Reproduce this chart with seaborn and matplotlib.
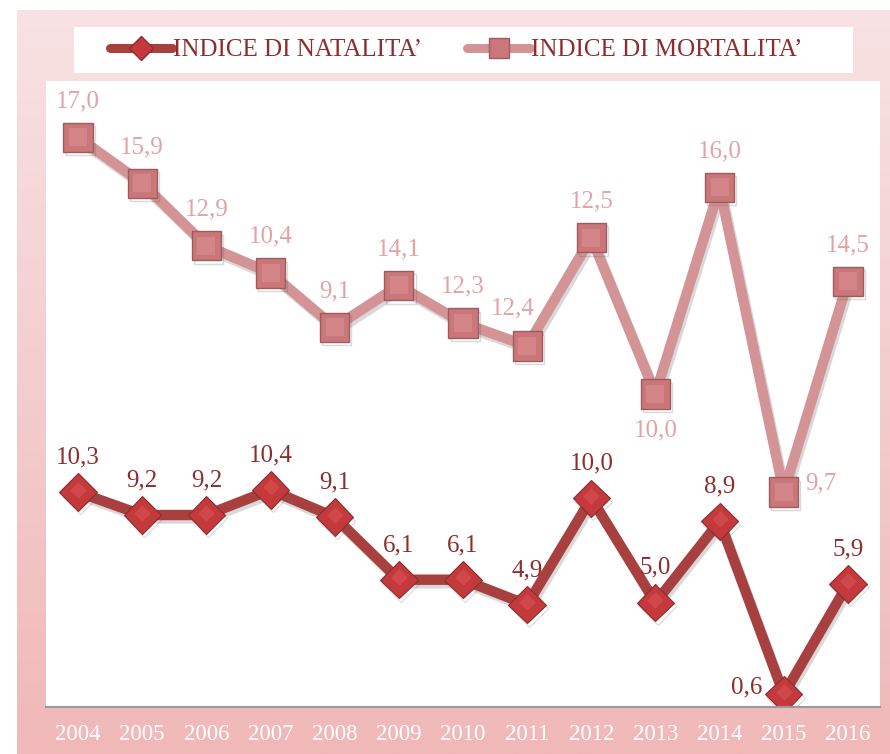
import numpy as np
import pandas as pd
import matplotlib.pyplot as plt
import matplotlib.patheffects as pe
from matplotlib.lines import Line2D
from matplotlib.patches import Rectangle
import seaborn as sns

sns.set_theme(style="white")
plt.rcParams['font.family'] = ['Liberation Serif', 'DejaVu Serif']

# data
years = [2004, 2005, 2006, 2007, 2008, 2009, 2010, 2011, 2012, 2013, 2014, 2015, 2016]
natalita = [10.3, 9.2, 9.2, 10.4, 9.1, 6.1, 6.1, 4.9, 10.0, 5.0, 8.9, 0.6, 5.9]
mortalita = [17.0, 15.9, 12.9, 10.4, 9.1, 14.1, 12.3, 12.4, 12.5, 10.0, 16.0, 9.7, 14.5]
series_names = ["INDICE DI NATALITA’", "INDICE DI MORTALITA’"]

df = pd.DataFrame({'anno': years, 'nat': natalita, 'mort': mortalita})
# stacked line chart: mortality drawn on top of natality
df['mort_stack'] = df['nat'] + df['mort']

nat_line = '#A8403F'
nat_face = '#C43A3C'
nat_text = '#8E2D2E'
mort_line = '#D49395'
mort_face = '#CB7679'
mort_text = '#E3A3A4'

fig = plt.figure(figsize=(8.9, 7.54), dpi=100)

# pink gradient background panel
bg = fig.add_axes([17 / 890, 0, 873 / 890, 744 / 754], zorder=-2)
grad = np.linspace(0, 1, 256).reshape(-1, 1)
top = np.array([248, 226, 227]) / 255
bot = np.array([240, 184, 185]) / 255
img = top + (bot - top) * grad[:, :, None] * np.ones((1, 1, 3))
bg.imshow(img, aspect='auto', extent=[0, 1, 0, 1])
bg.axis('off')

# white legend box
fig.patches.append(Rectangle((74 / 890, 1 - 73 / 754), (853 - 74) / 890, 46 / 754,
                             transform=fig.transFigure, facecolor='white',
                             edgecolor='none', zorder=-1))

ax = fig.add_axes([46 / 890, 1 - 707 / 754, 834 / 890, 626 / 754])
ax.set_facecolor('white')

shadow = [pe.SimpleLineShadow(offset=(1.5, -2.5), alpha=0.22, shadow_color='#555555'), pe.Normal()]

sns.lineplot(data=df, x='anno', y='mort_stack', ax=ax, color=mort_line, linewidth=7.5,
             marker='s', markersize=21, markerfacecolor=mort_face,
             markeredgecolor='#9A5C5E', markeredgewidth=1.0, legend=False)
sns.lineplot(data=df, x='anno', y='nat', ax=ax, color=nat_line, linewidth=7.5,
             marker='D', markersize=19, markerfacecolor=nat_face,
             markeredgecolor='#8C2B2D', markeredgewidth=0.8, legend=False)
for ln in ax.get_lines():
    ln.set_path_effects(shadow)

# soft inner highlight (bevel look)
ax.scatter(df['anno'], df['mort_stack'], marker='s', s=170, color='#DB9597',
           alpha=0.5, linewidths=0, zorder=5)
ax.scatter(df['anno'], df['nat'] + 0.12, marker='D', s=70, color='#DA5557',
           alpha=0.55, linewidths=0, zorder=5)

ax.set_xlim(2003.5, 2016.5)
ax.set_ylim(0, 30)
ax.set_xticks(years)
ax.set_xticklabels([str(y) for y in years], color='white', fontsize=16.5)
ax.set_yticks([])
ax.tick_params(axis='x', length=0, pad=12)
ax.set_xlabel('')
ax.set_ylabel('')
for s in ['top', 'left', 'right']:
    ax.spines[s].set_visible(False)
ax.spines['bottom'].set_color('#9A9A9A')
ax.spines['bottom'].set_linewidth(1.5)

def fmt(v):
    return f"{v:.1f}".replace('.', ',')

# data labels
mort_off = {9: (0, -26), 11: (27, 6), 7: (-10, 27)}
for i, (x, y, v) in enumerate(zip(df['anno'], df['mort_stack'], df['mort'])):
    dx, dy = mort_off.get(i, (0, 26))
    ax.annotate(fmt(v), (x, y), xytext=(dx, dy), textcoords='offset points',
                ha='center', va='center', fontsize=18, color=mort_text)

nat_off = {11: (-27, 5)}
for i, (x, y) in enumerate(zip(df['anno'], df['nat'])):
    dx, dy = nat_off.get(i, (0, 25))
    ax.annotate(fmt(y), (x, y), xytext=(dx, dy), textcoords='offset points',
                ha='center', va='center', fontsize=18, color=nat_text)

handles = [
    Line2D([], [], color=nat_line, linewidth=6.5, marker='D', markersize=12,
           markerfacecolor=nat_face, markeredgecolor='#8C2B2D'),
    Line2D([], [], color=mort_line, linewidth=6.5, marker='s', markersize=14,
           markerfacecolor=mort_face, markeredgecolor='#9A5C5E'),
]
fig.legend(handles, series_names, loc='center',
           bbox_to_anchor=(456 / 890, 1 - 50 / 754), ncol=2, frameon=False,
           fontsize=18, labelcolor=nat_text, handlelength=2.5, handletextpad=0.05,
           columnspacing=1.8)

fig.savefig('out.png', dpi=100)
